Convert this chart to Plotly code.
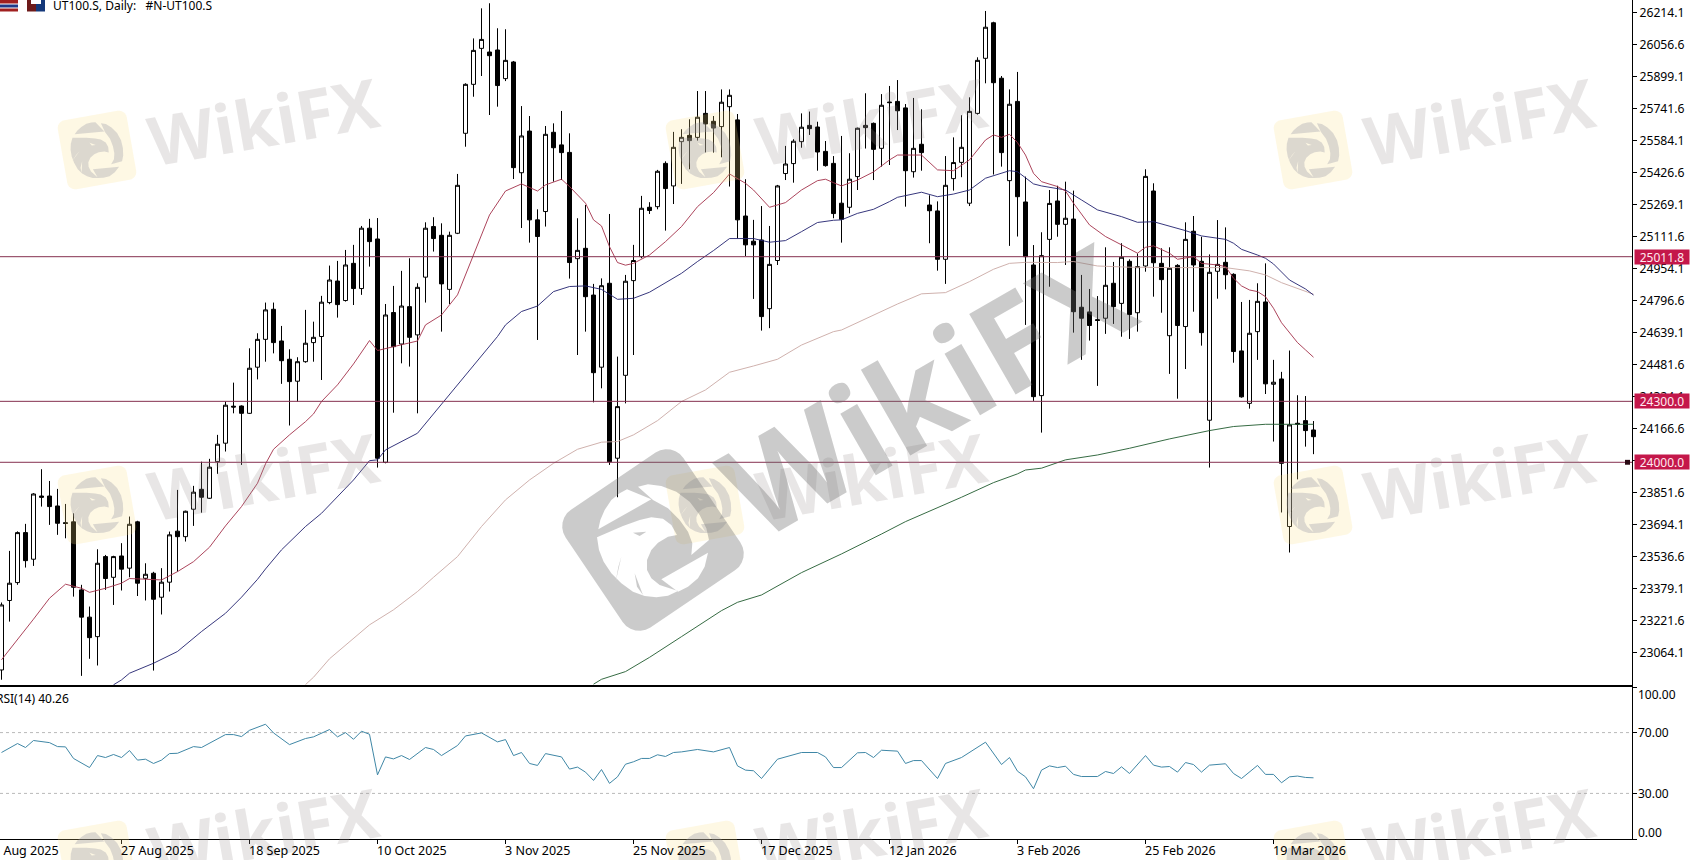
import math
import plotly.graph_objects as go

W, H = 1692, 860
FONT = "Noto Sans"

opens = [22978,23320,23408,23654,23523,23834,23834,23785,23703,23707,23372,23238,23142,23536,23434,23539,23479,23707,23429,23454,
23336,23410,23661,23634,23769,23867,23823,24003,24094,24276,24277,24241,24468,24605,24753,24597,24507,24399,24495,24589,
24619,24786,24892,24796,24979,24855,25152,25099,24000,24737,24582,24766,24627,24911,25160,25117,24851,25127,25619,25860,
26037,26019,26029,25888,25970,25425,25630,25193,25234,25624,25562,25525,25002,25053,24823,24468,24881,24020,24428,24894,
25012,25255,25258,25471,25360,25578,25609,25599,25717,25678,25652,25750,25685,25212,25088,25094,24756,24993,25421,25470,
25578,25658,25650,25530,25471,25275,25255,25406,25647,25668,25545,25773,25776,25744,25430,25565,25266,25237,24999,25396,
25476,25275,25717,25988,26163,25890,25386,25776,25281,24971,24328,25097,25286,25171,25197,24763,24740,24702,24709,24881,
24782,24989,24736,24966,25335,24979,24623,24969,24668,25137,24989,24207,24940,24984,24925,24548,24290,24643,24789,24384,
24410,23684,24192,24205,24159]
highs = [23310,23564,23660,23697,23848,23966,23908,23869,23795,23749,23397,23290,23572,23544,23540,23602,23733,23712,23503,23461,
23479,23659,23864,23762,23884,24003,24017,24135,24299,24392,24280,24561,24635,24786,24786,24671,24556,24517,24750,24692,
24819,24968,24991,25045,25070,25163,25198,25202,24779,24868,24942,25004,24881,25181,25206,25176,25135,25419,25865,26086,
26234,26259,26136,26131,25975,25753,25704,25245,25655,25668,25729,25619,25201,25266,24878,24905,25222,24520,24922,25070,
25311,25280,25439,25481,25626,25639,25688,25827,25827,25704,25835,25835,25714,25393,25193,25261,25163,25365,25557,25590,
25717,25726,25676,25581,25507,25606,25521,25647,25816,25672,25812,25852,25881,25763,25793,25737,25314,25284,25507,25599,
25708,25796,25993,26221,26168,25901,25835,25921,25406,25069,25132,25340,25361,25381,25337,24922,24853,24818,25058,24986,
25078,24999,25028,25442,25373,25053,25058,24975,25181,25212,25110,25023,25192,25156,24930,24789,24799,24881,24979,24504,
24445,24550,24330,24326,24203]
lows = [22930,23216,23397,23482,23490,23782,23692,23643,23626,23339,22949,23033,23000,23372,23298,23369,23434,23342,23320,22975,
23251,23364,23462,23610,23687,23752,23820,23943,24053,24241,23987,24238,24408,24495,24536,24386,24181,24299,24490,24495,
24405,24778,24712,24791,24774,24824,24963,23974,23995,24244,24487,24471,24241,24786,25037,24643,24779,25123,25553,25799,
25901,25709,25750,25876,25394,25153,25081,24602,25160,25381,25389,24904,24528,24643,24295,24364,23987,23828,24290,24528,
25004,25222,25245,25140,25271,25370,25442,25583,25525,25524,25501,25357,25102,25015,24804,24648,24660,24971,25389,25376,
25548,25611,25435,25455,25201,25081,25225,25340,25544,25389,25455,25463,25635,25258,25401,25435,25078,24943,24878,25337,
25403,25261,25711,25865,25416,25455,25065,25111,24676,24302,24146,24864,25110,24971,24638,24504,24599,24376,24632,24681,
24618,24607,24643,24938,24815,24736,24435,24313,24459,24741,24574,23974,24805,24851,24490,24318,24264,24504,24336,24102,
23753,23556,23916,24077,24040]
closes = [23298,23405,23654,23516,23844,23828,23782,23700,23699,23385,23238,23137,23503,23428,23536,23474,23695,23405,23449,23326,
23410,23643,23634,23759,23853,23828,23976,24089,24281,24272,24241,24463,24605,24750,24589,24500,24397,24495,24586,24615,
24788,24897,24776,24971,24855,25152,25086,24020,24725,24569,24769,24615,24861,25152,25101,24878,25117,25363,25860,26027,
26081,26001,25854,25978,25450,25606,25193,25111,25614,25548,25524,24983,25043,24815,24441,24869,24003,24274,24891,24993,
25250,25239,25432,25347,25550,25599,25583,25698,25665,25645,25772,25806,25193,25070,25070,24717,24974,25360,25468,25580,
25649,25642,25527,25460,25224,25196,25393,25644,25658,25540,25757,25770,25730,25435,25545,25524,25238,24999,25363,25475,
25550,25727,25978,26141,25868,25524,25762,25307,25012,24323,25017,25274,25171,25201,24741,24709,24673,24698,24871,24766,
25009,24727,24963,25407,24982,24899,24955,24673,25097,24971,24638,24935,24974,24923,24545,24322,24635,24792,24386,24394,
23995,24184,24188,24156,24126]
bars = list(range(len(opens)))

ma20_idx = [0,2,4,6,8,10,11,13,15,16,18,20,22,24,26,28,30,31,32,33,34,36,38,39,40,42,44,46,47,49,52,53,55,57,59,61,63,65,67,68,70,71,73,74,75,76,77,78,79,81,83,85,87,89,91,93,94,96,98,100,102,103,104,105,107,109,111,112,115,116,117,119,121,122,123,124,125,126,127,128,129,130,132,133,134,136,138,140,142,143,144,146,147,149,150,152,153,154,155,156,157,158,159,160,161,162,163,164]
ma20_val = [23028,23126,23228,23331,23400,23380,23360,23380,23405,23428,23425,23421,23462,23511,23582,23687,23782,23839,23897,23992,24064,24135,24200,24238,24299,24381,24484,24599,24550,24569,24597,24676,24725,24824,25020,25217,25335,25370,25335,25365,25393,25357,25275,25193,25163,25061,24983,24970,24979,25020,25086,25160,25258,25327,25419,25373,25340,25255,25278,25340,25386,25393,25376,25360,25389,25429,25488,25512,25512,25475,25439,25435,25488,25537,25586,25611,25599,25614,25573,25512,25422,25381,25357,25335,25275,25168,25111,25070,25029,25058,25065,25029,24999,25012,24979,24971,24963,24906,24868,24848,24840,24815,24758,24687,24635,24589,24553,24517]

ma50_idx = [14,15,16,19,22,25,28,30,32,33,35,38,40,42,44,46,47,48,50,52,62,63,65,67,69,71,73,75,77,79,81,83,85,87,89,91,94,96,98,100,102,104,105,107,109,111,112,115,117,119,121,123,125,126,127,129,130,133,135,137,140,142,144,146,148,150,153,154,155,157,158,159,161,163,164]
ma50_val = [22905,22929,22962,23011,23069,23167,23257,23336,23424,23475,23569,23684,23749,23831,23913,24008,24012,24061,24102,24143,24619,24676,24742,24769,24840,24865,24868,24851,24802,24807,24837,24884,24930,24988,25042,25101,25101,25083,25091,25135,25180,25191,25193,25225,25245,25283,25304,25329,25307,25320,25340,25398,25425,25435,25430,25370,25360,25340,25291,25242,25209,25181,25184,25163,25140,25114,25097,25078,25048,25020,25004,24976,24897,24853,24823]

ma100_idx = [38,39,41,44,46,49,52,54,57,60,63,66,69,72,75,77,79,82,85,88,91,94,97,100,104,105,109,112,115,118,121,124,126,128,132,134,137,141,147,153,156,158,160,162,164]
ma100_val = [22906,22942,23033,23134,23200,23274,23364,23434,23536,23684,23815,23913,23995,24064,24099,24102,24135,24205,24299,24356,24443,24474,24507,24577,24643,24651,24725,24779,24829,24835,24889,24950,24979,24984,24983,24988,24966,24960,24958,24958,24942,24922,24884,24856,24827]

ma200_idx = [74,75,78,81,85,90,92,95,100,105,110,113,120,124,127,128,130,133,137,141,146,151,154,158,164]
ma200_val = [22908,22932,22970,23040,23142,23270,23311,23347,23457,23549,23647,23708,23828,23900,23943,23962,23971,24012,24036,24069,24115,24156,24176,24187,24187]

rsi_idx = [0,2,3,4,6,7,8,9,11,12,13,14,15,16,17,18,19,20,21,22,24,25,28,29,30,31,33,34,36,38,39,41,42,43,44,45,46,47,48,49,50,51,53,54,55,57,58,60,62,63,64,65,66,67,68,70,71,72,73,74,75,76,77,78,79,80,81,82,83,84,85,87,89,91,92,93,94,95,97,98,100,102,103,104,105,107,108,109,110,112,113,114,115,117,118,120,123,125,126,127,128,129,130,131,132,133,134,135,137,138,139,140,141,143,144,145,146,147,148,149,150,151,153,154,155,157,158,159,160,161,162,163,164]
rsi_val = [56.9,62.8,60.2,64.8,63.4,60.8,60.6,53.0,47.0,54.9,53.6,55.6,53.6,58.2,51.9,52.5,49.7,51.9,56.2,56.4,60.8,60.2,68.7,68.7,67.4,71.5,75.5,69.8,62.1,66.1,67.2,72.0,67.2,70.0,65.6,70.9,68.9,42.2,54.0,52.7,54.9,52.3,60.2,58.9,54.9,61.5,67.8,69.8,63.9,65.4,54.9,56.9,49.7,48.4,56.2,54.0,46.0,47.3,44.0,38.5,45.7,36.6,40.9,49.2,50.8,53.0,53.0,55.4,54.3,56.9,57.3,58.9,57.3,60.2,48.1,45.3,44.9,39.8,52.5,54.0,56.9,56.9,54.0,47.0,47.0,56.7,56.9,53.6,58.4,57.8,49.7,51.6,51.6,39.8,49.7,53.6,63.7,49.0,53.6,44.6,40.9,33.1,45.3,48.1,47.0,47.9,42.5,41.1,41.1,44.4,43.1,47.5,43.1,54.9,48.6,47.3,47.7,44.0,50.3,49.0,44.0,48.6,49.5,43.1,39.8,48.4,42.5,42.5,37.0,40.9,41.4,40.5,40.26]

levels = [25011.8, 24300.0, 24000.0]
level_labels = ["25011.8", "24300.0", "24000.0"]
price_ticks = [26214.1,26056.6,25899.1,25741.6,25584.1,25426.6,25269.1,25111.6,24954.1,24796.6,24639.1,24481.6,24324.1,24166.6,24009.1,23851.6,23694.1,23536.6,23379.1,23221.6,23064.1]
date_tick_bars = [-1,15,31,47,63,79,95,111,127,143,159]
date_tick_labels = ["5 Aug 2025","27 Aug 2025","18 Sep 2025","10 Oct 2025","3 Nov 2025","25 Nov 2025","17 Dec 2025","12 Jan 2026","3 Feb 2026","25 Feb 2026","19 Mar 2026"]
rsi_ticks = [0, 30, 70, 100]
rsi_tick_labels = ["0.00", "30.00", "70.00", "100.00"]

def px(x): return x / W
def py(y): return 1 - y / H

PLOT_R = 1632
x_range = [-0.1875, (PLOT_R - 1.5) / 8]
BLACK = "#000000"

fig = go.Figure()
fig.add_trace(go.Candlestick(
    x=bars, open=opens, high=highs, low=lows, close=closes,
    increasing=dict(line=dict(color=BLACK, width=1), fillcolor="#ffffff"),
    decreasing=dict(line=dict(color=BLACK, width=1), fillcolor=BLACK),
    whiskerwidth=0, xaxis="x", yaxis="y", showlegend=False, hoverinfo="skip"))
for idx, val, col in [(ma100_idx, ma100_val, "#c9a8a4"), (ma200_idx, ma200_val, "#1f5a2e"),
                      (ma50_idx, ma50_val, "#20206e"), (ma20_idx, ma20_val, "#a3304a")]:
    fig.add_trace(go.Scatter(x=idx, y=val, mode="lines", line=dict(color=col, width=0.9),
                             xaxis="x", yaxis="y", showlegend=False, hoverinfo="skip"))
fig.add_trace(go.Scatter(x=rsi_idx, y=rsi_val, mode="lines", line=dict(color="#3f87a6", width=1),
                         xaxis="x2", yaxis="y2", showlegend=False, hoverinfo="skip"))

shapes = []
for lv in levels:
    shapes.append(dict(type="line", xref="x domain", yref="y", x0=0, x1=1, y0=lv, y1=lv,
                       line=dict(color="#85304f", width=1), layer="above"))
for lv in [30, 70]:
    shapes.append(dict(type="line", xref="x2 domain", yref="y2", x0=0, x1=1, y0=lv, y1=lv,
                       line=dict(color="#b9b9b9", width=1, dash="dot"), layer="below"))
shapes.append(dict(type="rect", xref="paper", yref="y", x0=px(1625), x1=px(1630), y0=23988, y1=24012,
                   fillcolor="#2a0a14", line=dict(width=0)))

# header icons, cropped by the top edge
for x0, x1, y0, y1, c in [(0,18,0,3.5,"#a02020"),(0,18,4.5,7.5,"#1f3a8a"),(0,18,8.5,11.5,"#a02020"),
                          (27,36,0,11.5,"#6d1a1a"),(36,45,0,11.5,"#14387a"),(31,41,0,4,"#ffffff")]:
    shapes.append(dict(type="rect", xref="paper", yref="paper", x0=px(x0), x1=px(x1), y0=py(y0), y1=py(y1),
                       fillcolor=c, line=dict(width=0), layer="above"))

def rot(points, cx, cy, deg, scale=1.0):
    a = math.radians(deg)
    return [(cx + scale * (x * math.cos(a) - y * math.sin(a)), cy + scale * (x * math.sin(a) + y * math.cos(a)))
            for x, y in points]

def rounded_square(side, r, n=6):
    s = side / 2
    pts = []
    for cx, cy, start in [(s-r,-s+r,-90),(s-r,s-r,0),(-s+r,s-r,90),(-s+r,-s+r,180)]:
        for k in range(n + 1):
            t = math.radians(start + 90 * k / n)
            pts.append((cx + r * math.cos(t), cy + r * math.sin(t)))
    return pts

def to_path(pts):
    return "M" + " L".join(f"{px(x):.5f},{py(y):.5f}" for x, y in pts) + " Z"

# eagle outline parts, relative to the logo centre (logo rotated by -34 degrees)
EAGLE_C = (340, 420)
eagle_raw = [
    [(262,268),(240,280),(215,300),(195,330),(182,360),(176,388),(335,298)],
    [(172,412),(250,378),(300,360),(335,352),(370,356),(395,375),(412,405),(385,410),(355,428),(335,450),(322,480),(322,510),(335,535),(360,555),(415,573),(385,587),(350,592),(315,588),(280,575),(245,550),(215,520),(192,485),(178,450)],
    [(280,398),(320,395),(300,408)],
    [(245,470),(228,545),(236,500)],
    [(285,520),(310,585),(292,560)],
    [(365,538),(505,458),(495,500),(475,535),(445,560),(415,575)],
    [(295,260),(325,253),(365,258),(410,275),(450,305),(480,345),(500,385),(508,420),(455,465),(458,430),(445,395),(420,360),(385,325),(340,300)],
]
eagle_parts = [[((a - EAGLE_C[0]) / 3, (b - EAGLE_C[1]) / 3) for a, b in part] for part in eagle_raw]

# small repeating watermarks
for row in range(3):
    for col in range(3):
        cx, cy = 97 + 608 * col, 150 + 355 * row
        shapes.append(dict(type="path", xref="paper", yref="paper", layer="above",
                           path=to_path(rot(rounded_square(70, 8), cx, cy, -10)),
                           fillcolor="rgba(250,225,130,0.22)", line=dict(width=0)))
        small = " ".join(to_path(rot(p, cx, cy, 24, 0.49)) for p in eagle_parts)
        shapes.append(dict(type="path", xref="paper", yref="paper", layer="above", path=small,
                           fillcolor="rgba(150,150,165,0.32)", line=dict(width=0)))

# large central watermark: rounded square with the eagle cut out of it
big_path = to_path(rot(rounded_square(142, 20), 653, 540, -34))
for part in eagle_parts:
    big_path += " " + to_path(rot(part, 653, 540, 0))
shapes.append(dict(type="path", xref="paper", yref="paper", layer="above", path=big_path,
                   fillcolor="rgba(110,110,110,0.36)", line=dict(width=0)))

ann = []
def text(x, y, s, size=12, color="#000000", anchor="left", **kw):
    ann.append(dict(xref="paper", yref="paper", x=px(x), y=py(y), text=s, showarrow=False,
                    xanchor=anchor, yanchor="middle", borderpad=0,
                    font=dict(family=kw.pop("family", FONT), size=size, color=color), **kw))

for row in range(3):
    for col in range(3):
        text(263 + 608 * col, 120 + 355 * row, "<b>WikiFX</b>", size=68, color="rgba(150,140,140,0.22)",
             anchor="center", textangle=-10, family="Open Sans")
text(925, 388, "<b>WikiFX</b>", size=130, color="rgba(110,110,110,0.36)", anchor="center",
     textangle=-30, family="Open Sans")

text(52, 5, "UT100.S, Daily:&nbsp;&nbsp;&nbsp;#N-UT100.S", size=12)
text(-5, 698, "RSI(14) 40.26", size=12)
for b, lab in zip(date_tick_bars, date_tick_labels):
    text(8 * b, 850, lab, size=12.5)
for lv, lab in zip(levels, level_labels):
    ann.append(dict(xref="paper", yref="y", x=px(1634), y=lv, text=lab, showarrow=False, xanchor="left",
                    yanchor="middle", width=54, height=14, align="center", bgcolor="#c4174a", borderpad=0,
                    font=dict(family=FONT, size=12, color="#ffe9ef")))
for v, lab in zip(rsi_ticks, rsi_tick_labels):
    shift = -7.5 if v == 100 else (7 if v == 0 else 0)
    ann.append(dict(xref="paper", yref="y2", x=px(1637), y=v, yshift=shift, text=lab, showarrow=False,
                    xanchor="left", yanchor="middle", borderpad=0, font=dict(family=FONT, size=12, color=BLACK)))

axis_common = dict(showgrid=False, zeroline=False, linecolor=BLACK, linewidth=1)
fig.update_layout(
    width=W, height=H, autosize=False, margin=dict(l=0, r=0, t=0, b=0),
    paper_bgcolor="#ffffff", plot_bgcolor="#ffffff", showlegend=False,
    boxgap=0.2857, font=dict(family=FONT, size=12, color=BLACK),
    shapes=shapes, annotations=ann,
    xaxis=dict(domain=[0, px(PLOT_R)], range=x_range, anchor="y", showticklabels=False, ticks="",
               showline=True, rangeslider=dict(visible=False), **axis_common),
    yaxis=dict(domain=[py(685), 1], range=[22904, 26275], side="right", anchor="x", showline=True,
               tickmode="array", tickvals=price_ticks, ticktext=[f"{t:.1f}" for t in price_ticks],
               ticks="outside", ticklen=4, tickcolor=BLACK, tickfont=dict(family=FONT, size=12.2), **axis_common),
    xaxis2=dict(domain=[0, px(PLOT_R)], range=x_range, anchor="y2", showline=True, mirror=True,
                tickmode="array", tickvals=date_tick_bars, ticktext=[""] * len(date_tick_bars),
                ticks="outside", ticklen=4, tickcolor=BLACK, **axis_common),
    yaxis2=dict(domain=[py(839), py(687)], range=[0, 100], side="right", anchor="x2", showline=True,
                tickmode="array", tickvals=rsi_ticks, ticktext=[""] * 4,
                ticks="outside", ticklen=4, tickcolor=BLACK, **axis_common),
)

fig.write_html("out.html", config={"displayModeBar": False},
               post_script="document.body.style.margin='0';document.body.style.overflow='hidden';")
